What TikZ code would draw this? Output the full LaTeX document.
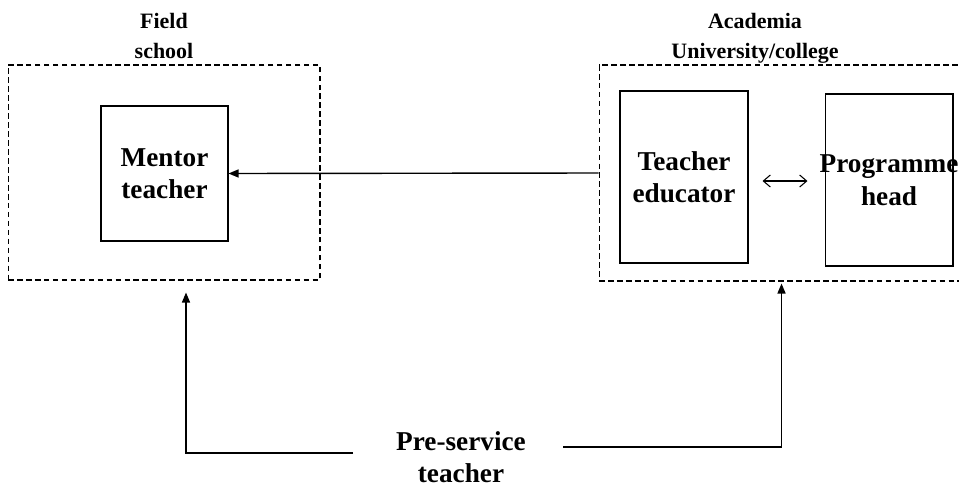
\documentclass[tikz,border=0pt]{standalone}
\usepackage{fontspec}
\setmainfont{Liberation Serif}
\usetikzlibrary{arrows.meta,positioning,calc}

\begin{document}
\begin{tikzpicture}[x=0.02cm, y=-0.02cm,
    box/.style={draw, line width=0.6pt, align=center, inner sep=0pt,
                font=\fontsize{15.5}{18.5}\selectfont\bfseries},
    zone/.style={draw, line width=0.6pt, dash pattern=on 3.2pt off 1.9pt},
    title/.style={align=center, font=\fontsize{12.5}{17}\selectfont\bfseries},
    lbl/.style={align=center, inner sep=1pt, font=\fontsize{15.5}{18}\selectfont\bfseries},
    arr/.style={-{Triangle[length=0.2cm,width=0.16cm]}, line width=0.8pt},
    dbl/.style={{Straight Barb[length=0.14cm,width=0.24cm]}-{Straight Barb[length=0.14cm,width=0.24cm]}, line width=0.6pt}
  ]
    \clip (0,0) rectangle (959,487);
    \node[zone, minimum width=6.24cm, minimum height=4.3cm] (field) at (164,172.5) {};
    \node[zone, minimum width=7.52cm, minimum height=4.32cm] (academia) at (787,173) {};
    \node[title] (fieldtitle) at (164,36) {Field\\school};
    \node[title] (academiatitle) at (755,38) {Academia\\University/college};
    \node[box, minimum width=2.54cm, minimum height=2.7cm] (mentor) at (164.5,173.5) {Mentor\\teacher};
    \node[box, minimum width=2.56cm, minimum height=3.44cm] (educator) at (684,177) {Teacher\\educator};
    \node[box, minimum width=2.56cm, minimum height=3.44cm, inner xsep=-5pt] (head) at (889,180) {Programme\\head};
    \node[lbl] (pre) at (461,457) {Pre-service\\teacher};
    \coordinate (preleft) at (353,453);
    \coordinate (preright) at (563,447);
    \draw[arr] (academia.west) -- (mentor.east);
    \draw[dbl] ($(educator.east)+(14,4)$) -- ($(head.west)+(-17,1)$);
    \draw[arr] (preleft) -| ($(field.south)+(22,12)$);
    \draw[arr] (preright) -| ($(academia.south west)+(183,2)$);
  \end{tikzpicture}
\end{document}
